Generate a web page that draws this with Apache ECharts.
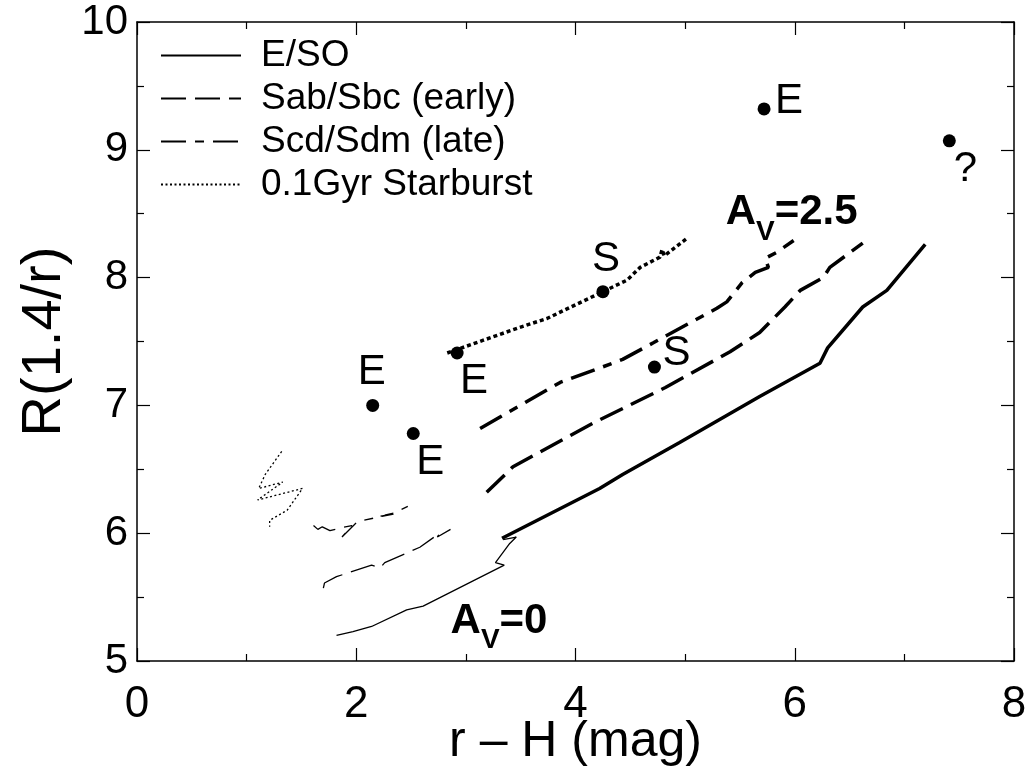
<!DOCTYPE html>
<html><head><meta charset="utf-8">
<script src="https://cdn.jsdelivr.net/npm/echarts@6/dist/echarts.min.js"></script>
<style>html,body{margin:0;padding:0;background:#fff}#c{width:1026px;height:768px}</style>
</head><body><div id="c"></div><script>
// ---- data ----
const esoThickX = [3.33,4.22,4.43,4.95,5.68,6.23,6.30,6.62,6.84,7.19];
const esoThickY = [5.96,6.35,6.46,6.71,7.07,7.33,7.45,7.77,7.90,8.26];
const esoThinX  = [1.82,1.97,2.14,2.46,2.61,3.35,3.27,3.40,3.46,3.34];
const esoThinY  = [5.20,5.23,5.27,5.40,5.43,5.75,5.77,5.92,5.97,5.95];
const sabThickX = [3.19,3.43,4.18,4.82,5.41,5.68,5.91,6.05,6.26,6.32,6.62];
const sabThickY = [6.32,6.52,6.87,7.14,7.42,7.57,7.77,7.90,8.00,8.08,8.27];
const sabThinX  = [1.70,1.71,1.82,2.14,2.22,2.26,2.58,2.76,2.74,2.86];
const sabThinY  = [5.57,5.61,5.66,5.75,5.73,5.77,5.89,6.00,5.97,6.03];
const scdThickX = [3.13,3.86,4.34,4.43,4.71,5.29,5.38,5.52,5.64,5.76,5.73,5.84,5.99];
const scdThickY = [6.82,7.18,7.33,7.36,7.49,7.76,7.81,7.96,8.04,8.08,8.15,8.20,8.29];
const scdThinX  = [1.61,1.65,1.69,1.76,1.85,1.96,1.87,2.01,2.17,2.34,2.20,2.35,2.47];
const scdThinY  = [6.06,6.03,6.05,6.02,6.04,6.06,5.97,6.09,6.12,6.15,6.13,6.16,6.21];
const sbThickX  = [2.83,3.16,3.49,3.74,4.25,4.47,4.59,4.77,4.79,4.81,5.02];
const sbThickY  = [7.41,7.51,7.61,7.68,7.89,7.98,8.08,8.16,8.22,8.17,8.31];
const sbThinX   = [1.32,1.17,1.11,1.33,1.10,1.51,1.37,1.21,1.21];
const sbThinY   = [6.64,6.46,6.35,6.40,6.26,6.35,6.18,6.10,6.05];
const galX      = [2.15,2.52,2.92,4.25,4.72,5.72,7.41];
const galY      = [7.00,6.78,7.41,7.89,7.30,9.32,9.07];
const galLabel  = ['E','E','E','S','S','E','?'];
const seriesNames = ['E/SO','Sab/Sbc (early)','Scd/Sdm (late)','0.1Gyr Starburst'];
const avValues  = ['2.5','0'];
const avX       = [5.365, 2.856];
const avY       = [8.46, 5.26];
const xTicks = [0,2,4,6,8];
const yTicks = [5,6,7,8,9,10];

// ---- styling ----
const FONT = '"Liberation Sans", Arial, Helvetica, sans-serif';
const labelOffsets = [[-1,-33],[17,29],[17,28],[3,-32],[22,-14],[25,-7],[16,29]];
const zip = (xs, ys) => xs.map((x, i) => [x, ys[i]]);
const THICK = 3.5, THIN = 1.3;
const dashes = {
  solid: 'solid',
  dash: [25, 9],
  dashdot: [25, 9, 9, 9],
  dot: [4, 3],
  dotThin: [2, 2.5]
};

function lineSeries(name, data, width, type) {
  return {
    type: 'line', name: name, data: data, symbol: 'none', showSymbol: false,
    lineStyle: { color: '#000', width: width, type: type, cap: 'butt' },
    itemStyle: { color: '#000' },
    z: 3, silent: true
  };
}

const axisLine = { show: true, onZero: false, lineStyle: { color: '#000', width: 1.5 } };
const axisTick = { show: true, inside: true, length: 13, lineStyle: { color: '#000', width: 1.2 } };
const minorTick = { show: true, splitNumber: 2, length: 7, lineStyle: { color: '#000', width: 1.2 } };

const chart = echarts.init(document.getElementById('c'), null, { renderer: 'canvas' });
const option = {
  animation: false,
  backgroundColor: '#fff',
  textStyle: { fontFamily: FONT, color: '#000' },
  grid: { left: 137, top: 22, width: 877, height: 639, containLabel: false, outerBoundsMode: 'none' },
  legend: {
    orient: 'vertical', left: 160, top: 37, padding: 0,
    itemWidth: 80, itemHeight: 14, itemGap: 6,
    data: seriesNames,
    selectedMode: false,
    itemStyle: { color: 'rgba(0,0,0,0)', borderWidth: 0, opacity: 0 },
    textStyle: { fontSize: 37, fontFamily: FONT, color: '#000', padding: [0, 0, 0, 15] }
  },
  xAxis: [{
    type: 'value', min: 0, max: 8, interval: 2, position: 'bottom',
    name: 'r – H (mag)', nameLocation: 'middle', nameGap: 56, nameMoveOverlap: false,
    nameTextStyle: { fontSize: 50, fontFamily: FONT, color: '#000' },
    axisLine: axisLine, axisTick: axisTick, minorTick: minorTick,
    splitLine: { show: false },
    axisLabel: { fontSize: 44, fontFamily: FONT, color: '#000', margin: 22,
      formatter: v => xTicks.indexOf(v) >= 0 ? String(v) : '' }
  }, {
    type: 'value', min: 0, max: 8, interval: 2, position: 'top',
    axisLine: axisLine, axisTick: axisTick, minorTick: minorTick,
    splitLine: { show: false }, axisLabel: { show: false }
  }],
  yAxis: [{
    type: 'value', min: 5, max: 10, interval: 1, position: 'left',
    name: 'R(1.4/r)', nameLocation: 'middle', nameGap: 64, nameMoveOverlap: false,
    nameTextStyle: { fontSize: 56, fontFamily: FONT, color: '#000' },
    axisLine: axisLine, axisTick: axisTick, minorTick: minorTick,
    splitLine: { show: false },
    axisLabel: { fontSize: 42, fontFamily: FONT, color: '#000', margin: 9,
      formatter: v => yTicks.indexOf(v) >= 0 ? String(v) : '' }
  }, {
    type: 'value', min: 5, max: 10, interval: 1, position: 'right',
    axisLine: axisLine, axisTick: axisTick, minorTick: minorTick,
    splitLine: { show: false }, axisLabel: { show: false }
  }],
  series: [
    lineSeries(seriesNames[0], zip(esoThinX, esoThinY), THIN, dashes.solid),
    lineSeries(seriesNames[1], zip(sabThinX, sabThinY), THIN, dashes.dash),
    lineSeries(seriesNames[2], zip(scdThinX, scdThinY), THIN, dashes.dashdot),
    lineSeries(seriesNames[3], zip(sbThinX, sbThinY), THIN, dashes.dotThin),
    lineSeries('E/SO Av2.5', zip(esoThickX, esoThickY), THICK, dashes.solid),
    lineSeries('Sab Av2.5', zip(sabThickX, sabThickY), THICK, dashes.dash),
    lineSeries('Scd Av2.5', zip(scdThickX, scdThickY), THICK, dashes.dashdot),
    lineSeries('SB Av2.5', zip(sbThickX, sbThickY), THICK, dashes.dot),
    {
      type: 'scatter', name: 'galaxies', symbol: 'circle', symbolSize: 13, z: 5, silent: true,
      itemStyle: { color: '#000', opacity: 1 },
      data: galX.map((x, i) => ({
        value: [x, galY[i]],
        label: { show: true, position: 'inside', offset: labelOffsets[i], formatter: galLabel[i],
          fontSize: 42, fontFamily: FONT, color: '#000', opacity: 1, align: 'center', verticalAlign: 'middle' }
      }))
    },
    {
      type: 'scatter', name: 'av', symbol: 'circle', symbolSize: 1, z: 6, silent: true,
      itemStyle: { color: 'rgba(0,0,0,0)', opacity: 1 },
      label: {
        show: true, position: 'right', distance: 0, color: '#000', opacity: 1,
        formatter: p => '{a|A}{v|V}{a|=' + avValues[p.dataIndex] + '}',
        rich: {
          a: { fontSize: 42, fontWeight: 'bold', fontFamily: FONT, color: '#000', lineHeight: 42, verticalAlign: 'top' },
          v: { fontSize: 28, fontWeight: 'bold', fontFamily: FONT, color: '#000', lineHeight: 54, padding: [26, 0, 0, 0], verticalAlign: 'bottom' }
        }
      },
      data: zip(avX, avY)
    }
  ]
};
chart.setOption(option);
</script></body></html>
